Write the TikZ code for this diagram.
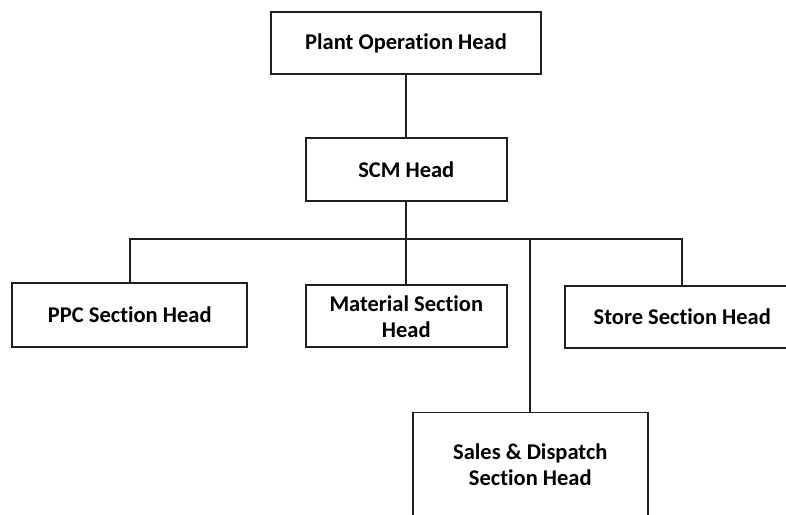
\documentclass[tikz,border=0pt]{standalone}
\usepackage{fontspec}
\setmainfont{Carlito}[Ligatures=NoCommon]
\begin{document}
\begin{tikzpicture}[x=1pt,y=-1pt,
  box/.style={draw=black!88,line width=1.8pt,fill=white,inner sep=0pt,align=center,
    font=\fontsize{22.5}{26}\selectfont\bfseries,text=black},
  link/.style={draw=black!88,line width=1.8pt}]
\useasboundingbox (0,0) rectangle (786,514);
\node[box,minimum width=270pt,minimum height=62pt] (plant) at (406,43) {Plant Operation Head};
\node[box,minimum width=201pt,minimum height=63pt] (scm) at (406.3,169.5) {SCM Head};
\node[box,minimum width=235pt,minimum height=63.4pt] (ppc) at (129.8,315) {PPC Section Head};
\node[box,minimum width=201pt,minimum height=62pt] (mat) at (406.3,316.2) {Material Section\\Head};
\node[box,minimum width=235pt,minimum height=62pt] (store) at (682.3,316.7) {Store Section Head};
\node[box,minimum width=235pt,minimum height=104pt] (sales) at (530.3,464.5) {Sales \& Dispatch\\Section Head};
\coordinate (bus) at (406.3,239);
\draw[link] (plant.south) -- (scm.south |- plant.south) -- (scm.north);
\draw[link] (scm.south) -- (mat.north);
\draw[link] (ppc.north) |- (bus) -| (store.north);
\draw[link] (sales.north) -- (sales.north |- bus);
\end{tikzpicture}
\end{document}
